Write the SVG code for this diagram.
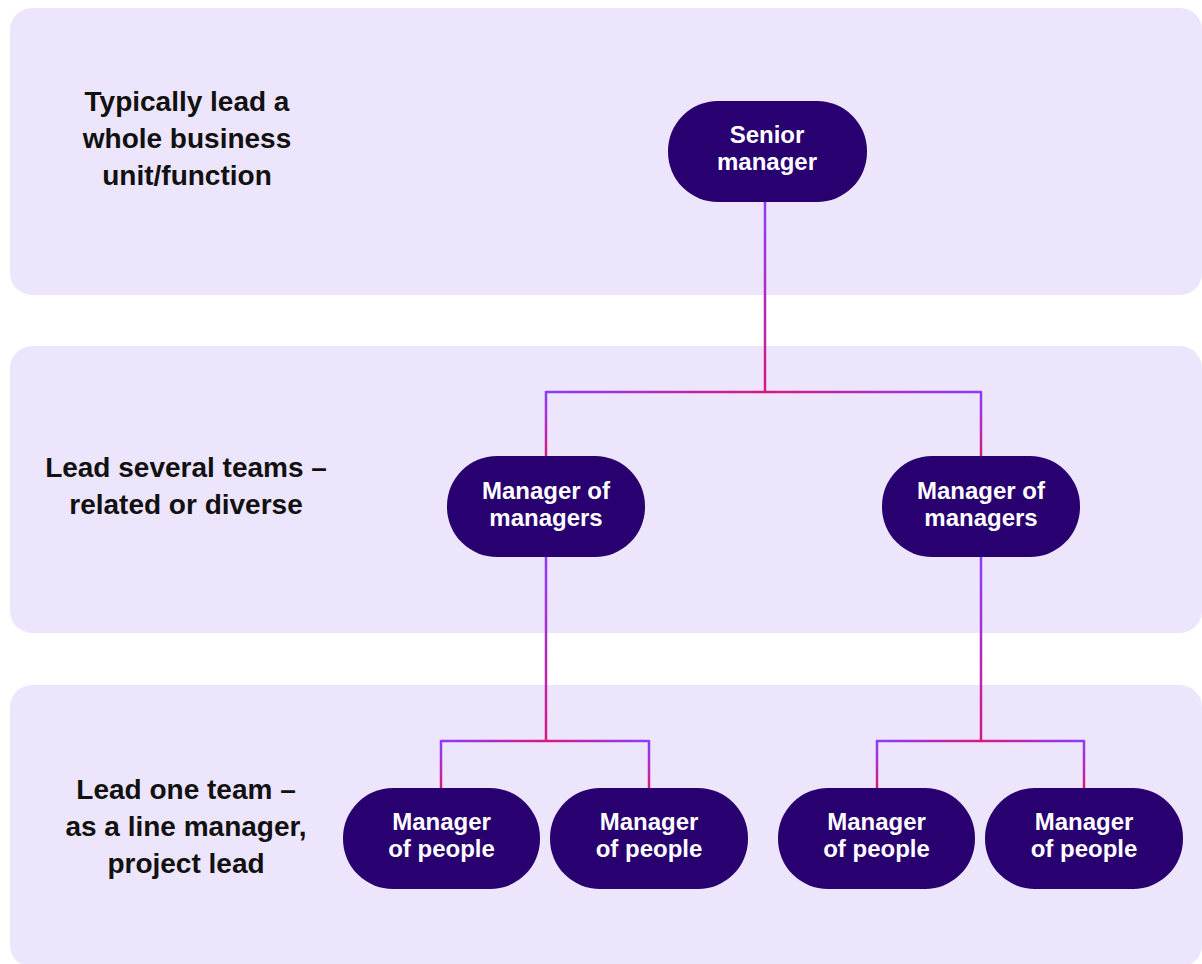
<svg xmlns="http://www.w3.org/2000/svg" width="1202" height="964" viewBox="0 0 1202 964">
<style>
.band{fill:#EDE5FC}
.node{fill:#280070}
.nt{font-family:"Liberation Sans",Arial,sans-serif;font-weight:bold;font-size:24px;fill:#FFFFFF;text-anchor:middle}
.lbl{font-family:"Liberation Sans",Arial,sans-serif;font-weight:bold;font-size:28px;fill:#111111;text-anchor:middle}
.c{fill:none;stroke-width:2.5}
</style>
<defs>
<linearGradient id="v1" gradientUnits="userSpaceOnUse" x1="0" y1="202" x2="0" y2="392"><stop offset="0" stop-color="#8C3BFF"/><stop offset="1" stop-color="#D51A7E"/></linearGradient>
<linearGradient id="v2" gradientUnits="userSpaceOnUse" x1="0" y1="392" x2="0" y2="456"><stop offset="0" stop-color="#8C3BFF"/><stop offset="1" stop-color="#D51A7E"/></linearGradient>
<linearGradient id="v3" gradientUnits="userSpaceOnUse" x1="0" y1="557" x2="0" y2="741"><stop offset="0" stop-color="#8C3BFF"/><stop offset="1" stop-color="#D51A7E"/></linearGradient>
<linearGradient id="v4" gradientUnits="userSpaceOnUse" x1="0" y1="741" x2="0" y2="788"><stop offset="0" stop-color="#8C3BFF"/><stop offset="1" stop-color="#D51A7E"/></linearGradient>
<linearGradient id="h1" gradientUnits="userSpaceOnUse" x1="546" y1="0" x2="981" y2="0"><stop offset="0" stop-color="#8C3BFF"/><stop offset="0.5" stop-color="#D51A7E"/><stop offset="1" stop-color="#8C3BFF"/></linearGradient>
<linearGradient id="h2" gradientUnits="userSpaceOnUse" x1="441" y1="0" x2="649" y2="0"><stop offset="0" stop-color="#8C3BFF"/><stop offset="0.5" stop-color="#D51A7E"/><stop offset="1" stop-color="#8C3BFF"/></linearGradient>
<linearGradient id="h3" gradientUnits="userSpaceOnUse" x1="877" y1="0" x2="1084" y2="0"><stop offset="0" stop-color="#8C3BFF"/><stop offset="0.5" stop-color="#D51A7E"/><stop offset="1" stop-color="#8C3BFF"/></linearGradient>
</defs>

<g id="bands">
<rect class="band" x="10" y="8" width="1192" height="287" rx="22"/>
<rect class="band" x="10" y="346" width="1192" height="287" rx="22"/>
<rect class="band" x="10" y="685" width="1192" height="282" rx="22"/>
</g>

<g id="labels">
<text class="lbl" x="187" y="111">Typically lead a</text>
<text class="lbl" x="187" y="148">whole business</text>
<text class="lbl" x="187" y="185">unit/function</text>
<text class="lbl" x="186" y="477">Lead several teams –</text>
<text class="lbl" x="186" y="514">related or diverse</text>
<text class="lbl" x="186" y="799">Lead one team –</text>
<text class="lbl" x="186" y="836">as a line manager,</text>
<text class="lbl" x="186" y="873">project lead</text>
</g>

<g id="connectors">
<line class="c" stroke="url(#v1)" x1="765" y1="202" x2="765" y2="392"/>
<line class="c" stroke="url(#h1)" x1="546" y1="392" x2="981" y2="392"/>
<line class="c" stroke="url(#v2)" x1="546" y1="391" x2="546" y2="456"/>
<line class="c" stroke="url(#v2)" x1="981" y1="391" x2="981" y2="456"/>
<line class="c" stroke="url(#v3)" x1="546" y1="557" x2="546" y2="741"/>
<line class="c" stroke="url(#v3)" x1="981" y1="557" x2="981" y2="741"/>
<line class="c" stroke="url(#h2)" x1="441" y1="741" x2="649" y2="741"/>
<line class="c" stroke="url(#h3)" x1="877" y1="741" x2="1084" y2="741"/>
<line class="c" stroke="url(#v4)" x1="441" y1="740" x2="441" y2="788"/>
<line class="c" stroke="url(#v4)" x1="649" y1="740" x2="649" y2="788"/>
<line class="c" stroke="url(#v4)" x1="877" y1="740" x2="877" y2="788"/>
<line class="c" stroke="url(#v4)" x1="1084" y1="740" x2="1084" y2="788"/>
</g>

<g id="senior">
<rect class="node" x="668" y="101" width="199" height="101" rx="50"/>
<text class="nt" x="767" y="143">Senior</text>
<text class="nt" x="767" y="170">manager</text>
</g>
<g id="mom1">
<rect class="node" x="447" y="456" width="198" height="101" rx="50"/>
<text class="nt" x="546" y="499">Manager of</text>
<text class="nt" x="546" y="526">managers</text>
</g>
<g id="mom2">
<rect class="node" x="882" y="456" width="198" height="101" rx="50"/>
<text class="nt" x="981" y="499">Manager of</text>
<text class="nt" x="981" y="526">managers</text>
</g>
<g id="mop1">
<rect class="node" x="343" y="788" width="197" height="101" rx="50"/>
<text class="nt" x="441.5" y="830">Manager</text>
<text class="nt" x="441.5" y="857">of people</text>
</g>
<g id="mop2">
<rect class="node" x="550" y="788" width="198" height="101" rx="50"/>
<text class="nt" x="649" y="830">Manager</text>
<text class="nt" x="649" y="857">of people</text>
</g>
<g id="mop3">
<rect class="node" x="778" y="788" width="197" height="101" rx="50"/>
<text class="nt" x="876.5" y="830">Manager</text>
<text class="nt" x="876.5" y="857">of people</text>
</g>
<g id="mop4">
<rect class="node" x="985" y="788" width="198" height="101" rx="50"/>
<text class="nt" x="1084" y="830">Manager</text>
<text class="nt" x="1084" y="857">of people</text>
</g>
</svg>
